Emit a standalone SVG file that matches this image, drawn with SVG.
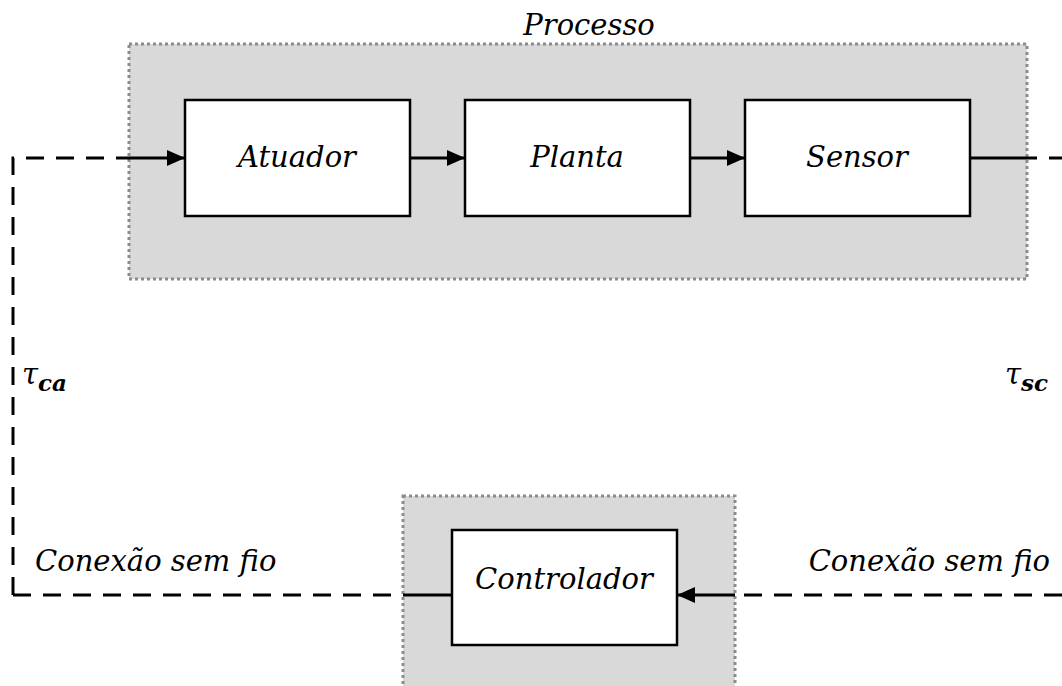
<svg xmlns="http://www.w3.org/2000/svg" width="1062" height="686" viewBox="0 0 1062 686">
<defs>
<marker id="arr" markerWidth="18" markerHeight="16" refX="18" refY="8" orient="auto" markerUnits="userSpaceOnUse" viewBox="0 0 18 16"><path d="M0,0 L18,8 L0,16 z" fill="#000"/></marker>
</defs>
<style>
.grp{fill:#d9d9d9;stroke:#8c8c8c;stroke-width:3;stroke-dasharray:3 3}
.box{fill:#fff;stroke:#000;stroke-width:2.5}
.t{font-family:'DejaVu Serif',serif;font-style:italic;font-size:29px;fill:#000}
.sol{stroke:#000;stroke-width:3;fill:none}
.dash{stroke:#000;stroke-width:3;fill:none;stroke-dasharray:18 12}
</style>
<rect width="1062" height="686" fill="#fff"/>
<g id="processo">
<rect class="grp" x="129" y="44" width="898" height="235"/>
<text class="t" x="589" y="35" text-anchor="middle">Processo</text>
</g>
<g id="controlador-grp">
<rect class="grp" x="403" y="496" width="332" height="200"/>
</g>
<g id="atuador"><rect class="box" x="185" y="100" width="225" height="116"/><text class="t" x="297" y="167" text-anchor="middle">Atuador</text></g>
<g id="planta"><rect class="box" x="465" y="100" width="225" height="116"/><text class="t" x="577" y="167" text-anchor="middle">Planta</text></g>
<g id="sensor"><rect class="box" x="745" y="100" width="225" height="116"/><text class="t" x="857" y="167" text-anchor="middle">Sensor</text></g>
<g id="controlador"><rect class="box" x="452" y="530" width="225" height="115"/><text class="t" x="564" y="589" text-anchor="middle">Controlador</text></g>
<g id="connectors">
<path class="dash" d="M13,595 V158 H129"/>
<path class="dash" d="M13,595 H403"/>
<path class="sol" d="M129,158 H185" marker-end="url(#arr)"/>
<path class="sol" d="M410,158 H465" marker-end="url(#arr)"/>
<path class="sol" d="M690,158 H745" marker-end="url(#arr)"/>
<path class="sol" d="M970,158 H1037"/>
<path class="dash" d="M1049,158 H1062"/>
<path class="sol" d="M403,595 H452"/>
<path class="dash" d="M1062,595 H735"/>
<path class="sol" d="M735,595 H677" marker-end="url(#arr)"/>
</g>
<g id="labels">
<text class="t" x="22" y="384" font-size="36">τ<tspan font-weight="bold" font-size="23" dy="7">ca</tspan></text>
<text class="t" x="1005" y="384" font-size="36">τ<tspan font-weight="bold" font-size="23" dy="7">sc</tspan></text>
<text class="t" x="35" y="571">Conexão sem fio</text>
<text class="t" x="1050" y="571" text-anchor="end">Conexão sem fio</text>
</g>
</svg>
